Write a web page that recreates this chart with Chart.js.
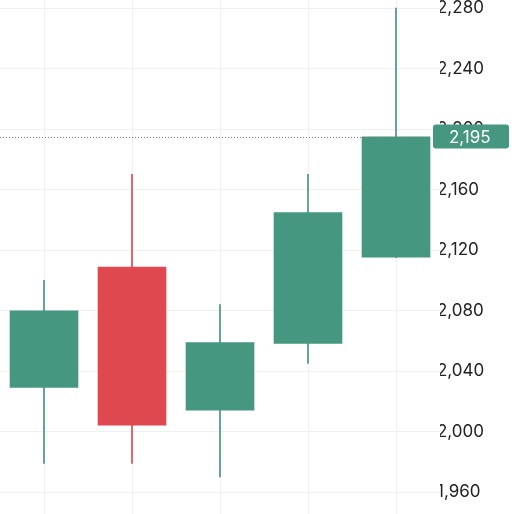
<!DOCTYPE html>
<html><head><meta charset="utf-8">
<script src="https://cdn.jsdelivr.net/npm/chart.js@4"></script>
<style>html,body{margin:0;padding:0;background:#fff}#w{width:512px;height:514px}</style>
</head><body><div id="w"><canvas id="c"></canvas></div>
<script>
const categories = ['1','2','3','4','5'];
const opens  = [2029, 2109, 2014, 2058, 2115];
const closes = [2080, 2004, 2059, 2145, 2195];
const highs  = [2100, 2170, 2084, 2170, 2280];
const lows   = [1979, 1979, 1970, 2045, 2115];
const yTicks = [1960, 2000, 2040, 2080, 2120, 2160, 2200, 2240, 2280];
const lastPrice = 2195;
const UP = '#45977f', DOWN = '#e0484f';
const cols = opens.map((o,i)=> closes[i]>=o ? UP : DOWN);

const priceLine = {
  id:'priceLine',
  afterDraw(chart){
    const {ctx, chartArea:a, scales:{y}} = chart;
    const py = y.getPixelForValue(lastPrice);
    ctx.save();
    ctx.strokeStyle='#777'; ctx.lineWidth=1; ctx.setLineDash([1,2]);
    ctx.beginPath(); ctx.moveTo(a.left, Math.round(py)+0.5); ctx.lineTo(a.right-8, Math.round(py)+0.5); ctx.stroke();
    ctx.setLineDash([]);
    ctx.fillStyle=UP;
    const x0=a.right-7, w=76, h=24;
    ctx.beginPath(); ctx.roundRect(x0, py-h/2, w, h, 3); ctx.fill();
    ctx.fillStyle='#fff'; ctx.font='17px Inter, "DejaVu Sans", sans-serif';
    ctx.textBaseline='middle'; ctx.textAlign='left';
    ctx.fillText(lastPrice.toLocaleString('en-US'), x0+16, py+1);
    ctx.restore();
  }
};

new Chart(document.getElementById('c'), {
  type:'bar',
  data:{ labels:categories, datasets:[
    { data: highs.map((h,i)=>[lows[i],h]), backgroundColor:cols, barThickness:1, grouped:false, order:2 },
    { data: opens.map((o,i)=>[o,closes[i]]), backgroundColor:cols, barPercentage:0.78, categoryPercentage:1, grouped:false, order:1 }
  ]},
  options:{
    responsive:true, maintainAspectRatio:false, animation:false,
    layout:{padding:0},
    plugins:{legend:{display:false}, tooltip:{enabled:false}},
    scales:{
      x:{ grid:{color:'#f0f0f0', offset:false, drawTicks:false}, border:{display:false}, ticks:{display:false},
          afterFit(s){ s.height = 0; s.paddingLeft=0; s.paddingRight=0; } },
      y:{ position:'right', min:1945.5, max:2285.3,
          afterBuildTicks(s){ s.ticks = yTicks.map(v=>({value:v})); },
          afterFit(s){ s.width = 72; s.paddingTop = 0; s.paddingBottom = 0; },
          grid:{color:'#f0f0f0', drawTicks:false}, border:{display:false},
          ticks:{ color:'#222', padding:-3, font:{size:17, family:'Inter, "DejaVu Sans", sans-serif'},
                  callback:v=>v.toLocaleString('en-US') } }
    }
  },
  plugins:[priceLine]
});
</script></body></html>
